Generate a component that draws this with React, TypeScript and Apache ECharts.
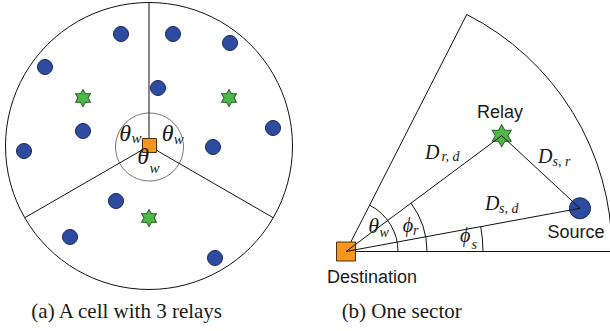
import React, { useEffect, useRef } from "react";
import * as echarts from "echarts";

// ---- data: node positions (diagram coordinates, 1 unit = 1 px) ----
const cellUsers: [number, number][] = [
  [121, 34], [173, 34], [230, 43], [45, 67], [158, 88], [273, 128],
  [83, 131], [213, 147], [24, 151], [116, 201], [70, 237], [215, 258],
];
const cellRelays: [number, number][] = [[83, 98], [229, 98], [149, 218]];
const cellBase: [number, number][] = [[149.5, 145.5]];
const sectorDestination: [number, number] = [346, 251.5];
const sectorRelay: [number, number] = [501.7, 135.7];
const sectorSource: [number, number] = [580, 208.3];
const nodeLabels = ["Relay", "Source", "Destination"];
const captions = ["(a) A cell with 3 relays", "(b) One sector"];
const sectorLinks: [number, number][][] = [
  [sectorDestination, sectorRelay],
  [sectorDestination, sectorSource],
  [sectorRelay, sectorSource],
];

const STAR =
  "path://M0,-100L28.87,-50L86.6,-50L57.74,0L86.6,50L28.87,50L0,100L-28.87,50L-86.6,50L-57.74,0L-86.6,-50L-28.87,-50Z";

const SERIF = "Liberation Serif";
const SANS = "Liberation Sans";

function txt(
  text: string,
  x: number,
  baseline: number,
  size: number,
  family: string,
  italic: boolean,
  align: string = "left"
) {
  const c = family === SANS ? 0.346 : 0.338;
  return {
    type: "text",
    z: 10,
    silent: true,
    style: {
      text,
      x,
      y: baseline - c * size,
      fontSize: size,
      fontFamily: family,
      fontStyle: italic ? "italic" : "normal",
      fill: "#1a1a1a",
      align,
      verticalAlign: "middle",
    },
  };
}

export default function App() {
  const ref = useRef<HTMLDivElement>(null);
  useEffect(() => {
    document.body.style.margin = "0";
    if (!ref.current) return;
    const chart = echarts.init(ref.current, null, { renderer: "svg" });

    const cx = 149, cy = 146, R = 143.5;
    const spokes = [90, 210, 330].map((a) => {
      const r = (a * Math.PI) / 180;
      return {
        type: "line",
        z: 1,
        shape: { x1: cx, y1: cy, x2: cx + R * Math.cos(r), y2: cy - R * Math.sin(r) },
        style: { stroke: "#111", lineWidth: 1 },
      };
    });

    const [dx, dy] = sectorDestination;
    const topAng = (-63 * Math.PI) / 180;
    const SR = 266;
    const relayAng = Math.atan2(sectorRelay[1] - dy, sectorRelay[0] - dx);
    const sourceAng = Math.atan2(sectorSource[1] - dy, sectorSource[0] - dx);
    const arc = (r: number, a0: number) => ({
      type: "arc",
      z: 1,
      shape: { cx: dx, cy: dy, r, startAngle: a0, endAngle: 0, clockwise: true },
      style: { stroke: "#111", fill: "none", lineWidth: 1 },
    });

    const graphic: any[] = [
      { type: "circle", z: 1, shape: { cx, cy, r: R }, style: { stroke: "#111", fill: "none", lineWidth: 1 } },
      { type: "circle", z: 1, shape: { cx: 149.5, cy: 147, r: 34 }, style: { stroke: "#777", fill: "none", lineWidth: 1 } },
      ...spokes,
      {
        type: "line", z: 1,
        shape: { x1: dx, y1: dy, x2: dx + SR * Math.cos(topAng), y2: dy + SR * Math.sin(topAng) },
        style: { stroke: "#111", lineWidth: 1 },
      },
      { type: "line", z: 1, shape: { x1: dx, y1: dy, x2: 612, y2: dy }, style: { stroke: "#111", lineWidth: 1 } },
      arc(SR, topAng),
      arc(52, topAng),
      arc(81, relayAng),
      arc(137, sourceAng),
      txt("θ", 119.3, 141.5, 24, SERIF, true),
      txt("w", 131.5, 143.5, 15, SERIF, true),
      txt("θ", 161.7, 140.7, 24, SERIF, true),
      txt("w", 173.8, 144, 15, SERIF, true),
      txt("θ", 137.3, 164, 24, SERIF, true),
      txt("w", 149.6, 173, 15, SERIF, true),
      txt("θ", 368.3, 233.3, 22, SERIF, true),
      txt("w", 379.6, 237, 14, SERIF, true),
      txt("ϕ", 402.7, 232, 20, SERIF, true),
      txt("r", 413, 235.5, 14, SERIF, true),
      txt("ϕ", 460, 242, 20, SERIF, true),
      txt("s", 471.5, 249, 14, SERIF, true),
      txt("D", 425, 158.3, 20, SERIF, true),
      txt("r, d", 441.5, 161.7, 14, SERIF, true),
      txt("D", 538, 163, 20, SERIF, true),
      txt("s, r", 552.5, 166.5, 14, SERIF, true),
      txt("D", 485, 210, 20, SERIF, true),
      txt("s, d", 499, 213.5, 14, SERIF, true),
      txt(nodeLabels[0], 500, 118.3, 18, SANS, false, "center"),
      txt(nodeLabels[1], 576, 238.3, 18, SANS, false, "center"),
      txt(nodeLabels[2], 372, 283.3, 18, SANS, false, "center"),
      txt(captions[0], 126.7, 318, 21, SERIF, false, "center"),
      txt(captions[1], 401.7, 318, 21, SERIF, false, "center"),
    ];

    const blue = { color: "#2E4C9F", borderColor: "#1A2657", borderWidth: 1, opacity: 1 };
    const green = { color: "#4FB848", borderColor: "#2A5E27", borderWidth: 1, opacity: 1 };
    const orange = { color: "#F7941D", borderColor: "#4A3210", borderWidth: 1, opacity: 1 };

    chart.setOption({
      animation: false,
      grid: { left: 0, right: 0, top: 0, bottom: 0 },
      xAxis: { type: "value", min: 0, max: 610, show: false },
      yAxis: { type: "value", min: 0, max: 331, inverse: true, show: false },
      graphic,
      series: [
        { type: "scatter", z: 2, symbol: "circle", symbolSize: 15, data: cellUsers, itemStyle: blue, silent: true },
        { type: "scatter", z: 2, symbol: STAR, symbolSize: [15, 17], data: cellRelays, itemStyle: green, silent: true },
        { type: "scatter", z: 2, symbol: "rect", symbolSize: 14, data: cellBase, itemStyle: orange, silent: true },
        { type: "scatter", z: 2, symbol: "circle", symbolSize: 21, data: [sectorSource], itemStyle: blue, silent: true },
        { type: "scatter", z: 2, symbol: STAR, symbolSize: [19, 22], data: [sectorRelay], itemStyle: green, silent: true },
        { type: "scatter", z: 2, symbol: "rect", symbolSize: 19, data: [sectorDestination], itemStyle: orange, silent: true },
        {
          type: "lines",
          coordinateSystem: "cartesian2d",
          z: 3,
          silent: true,
          lineStyle: { color: "#111", width: 1, opacity: 1 },
          data: sectorLinks.map((c) => ({ coords: c })),
        },
      ],
    });
    return () => chart.dispose();
  }, []);
  return <div ref={ref} style={{ width: 610, height: 331, background: "#fff" }} />;
}
